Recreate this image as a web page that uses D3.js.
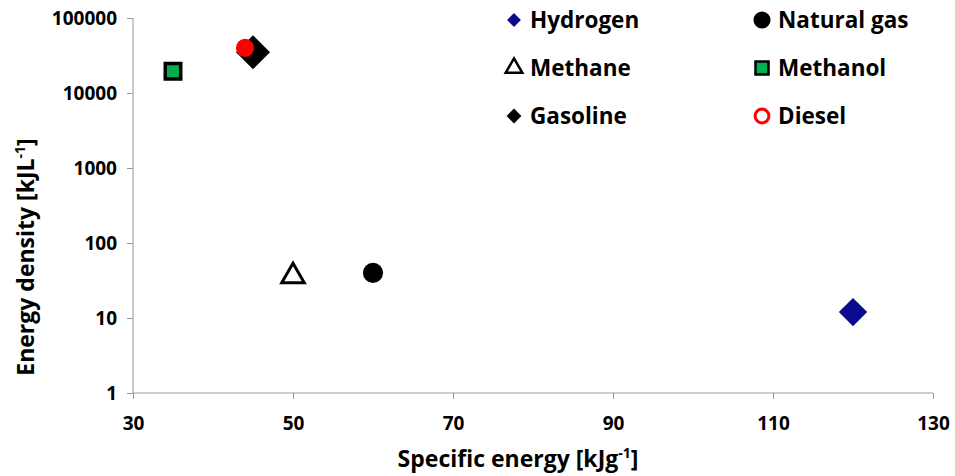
<!DOCTYPE html>
<html>
<head>
<meta charset="utf-8">
<script src="https://cdn.jsdelivr.net/npm/d3@7"></script>
<style>
  body { margin: 0; background: #fff; }
  text { font-family: "Open Sans", sans-serif; font-weight: bold; fill: #000; }
</style>
</head>
<body>
<div id="chart"></div>
<script>
// fuels
var fuels = ["Hydrogen", "Natural gas", "Methane", "Methanol", "Gasoline", "Diesel"];
var specificEnergy = [120, 60, 50, 35, 45, 44];
var energyDensity = [12, 40, 36, 19500, 35000, 40000];
var xTicks = [30, 50, 70, 90, 110, 130];
var yTicks = [1, 10, 100, 1000, 10000, 100000];

var width = 955, height = 476;
var margin = {top: 18, right: 22, bottom: 83, left: 133};

var svg = d3.select("#chart").append("svg")
  .attr("width", width)
  .attr("height", height);

var x = d3.scaleLinear().domain([30, 130]).range([margin.left, width - margin.right]);
var y = d3.scaleLog().domain([1, 100000]).range([height - margin.bottom, margin.top]);

// axes
var xAxis = svg.append("g")
  .attr("transform", "translate(0," + y(1) + ")")
  .call(d3.axisBottom(x).tickValues(xTicks).tickSize(6).tickFormat(d3.format("d")));
xAxis.selectAll("line, path").attr("stroke", "#999");
xAxis.selectAll("text").attr("dy", "1.45em").style("font-size", "19px");

var yAxis = svg.append("g")
  .attr("transform", "translate(" + x(30) + ",0)")
  .call(d3.axisLeft(y).tickValues(yTicks).tickSize(6).tickFormat(d3.format("d")));
yAxis.selectAll("line, path").attr("stroke", "#999");
yAxis.selectAll("text").attr("x", -16).style("font-size", "19px");
xAxis.select(".domain").attr("d", "M" + x(30) + ",0H" + x(130));
yAxis.select(".domain").attr("d", "M0," + y(1) + "V" + y(100000));

// axis titles
var xt = svg.append("text")
  .attr("x", 518)
  .attr("y", 467)
  .attr("text-anchor", "middle")
  .style("font-size", "23px");
xt.append("tspan").text("Specific energy [kJg");
xt.append("tspan").attr("dy", -9).style("font-size", "14px").text("-1");
xt.append("tspan").attr("dy", 9).text("]");

var yt = svg.append("text")
  .attr("transform", "translate(34,257) rotate(-90)")
  .attr("text-anchor", "middle")
  .style("font-size", "23px");
yt.append("tspan").text("Energy density [kJL");
yt.append("tspan").attr("dy", -9).style("font-size", "14px").text("-1");
yt.append("tspan").attr("dy", 9).text("]");

// marker styles; diamonds are squares turned 45 degrees
var styles = {
  "Hydrogen":    {type: d3.symbolSquare, rot: 45, size: 400, fill: "#0a0a8c", stroke: "#0a0a8c", sw: 0, lsize: 95},
  "Natural gas": {type: d3.symbolCircle, rot: 0, size: 320, fill: "#000", stroke: "#000", sw: 0, lsize: 230},
  "Methane":     {type: d3.symbolTriangle, rot: 0, size: 220, fill: "#fff", stroke: "#000", sw: 3, lsize: 120},
  "Methanol":    {type: d3.symbolSquare, rot: 0, size: 240, fill: "#00b050", stroke: "#000", sw: 3.5, lsize: 170},
  "Gasoline":    {type: d3.symbolSquare, rot: 45, size: 580, fill: "#000", stroke: "#000", sw: 0, lsize: 110},
  "Diesel":      {type: d3.symbolCircle, rot: 0, size: 260, fill: "#ff0000", stroke: "#ff0000", sw: 0, lsize: 150}
};

var data = fuels.map(function(f, i) {
  return {name: f, se: specificEnergy[i], ed: energyDensity[i]};
});

// gasoline comes before diesel so the red dot sits on top
svg.append("g").selectAll("path")
  .data(data)
  .join("path")
  .attr("transform", function(d) {
    return "translate(" + x(d.se) + "," + y(d.ed) + ") rotate(" + styles[d.name].rot + ")";
  })
  .attr("d", function(d) { return d3.symbol().type(styles[d.name].type).size(styles[d.name].size)(); })
  .attr("fill", function(d) { return styles[d.name].fill; })
  .attr("stroke", function(d) { return styles[d.name].stroke; })
  .attr("stroke-width", function(d) { return styles[d.name].sw; });

// legend, two columns of three rows
var legendOrder = ["Hydrogen", "Methane", "Gasoline", "Natural gas", "Methanol", "Diesel"];
var legend = svg.append("g");
legendOrder.forEach(function(name, i) {
  var col = Math.floor(i / 3), row = i % 3;
  var lx = 514 + col * 248, ly = 20 + row * 48;
  var s = styles[name];
  var g = legend.append("g").attr("transform", "translate(" + lx + "," + ly + ")");
  var fill = s.fill, sw = s.sw;
  if (name === "Diesel") { fill = "#fff"; sw = 3; }
  if (name === "Methanol" || name === "Methane") { sw = 2.5; }
  g.append("path")
    .attr("transform", "rotate(" + s.rot + ")")
    .attr("d", d3.symbol().type(s.type).size(s.lsize)())
    .attr("fill", fill)
    .attr("stroke", s.stroke)
    .attr("stroke-width", sw);
  g.append("text")
    .attr("x", 16)
    .attr("dy", "0.36em")
    .style("font-size", "22.5px")
    .text(name);
});
</script>
</body>
</html>
